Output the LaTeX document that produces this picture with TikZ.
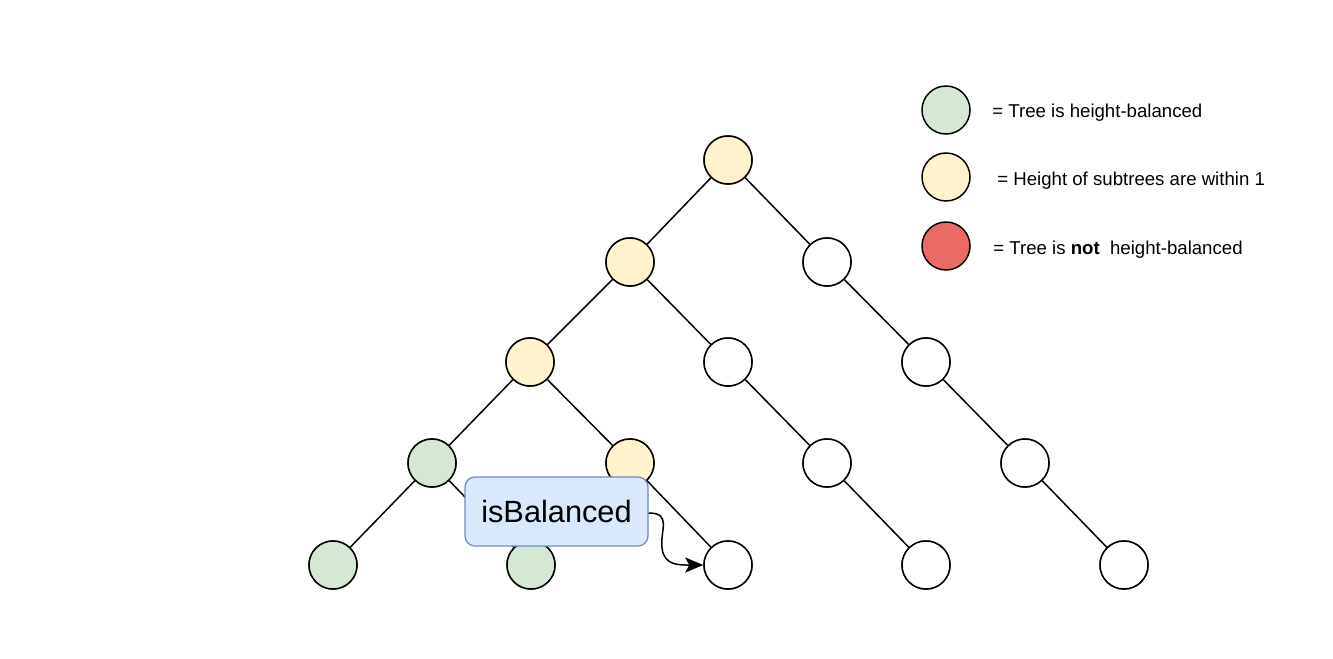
\documentclass[tikz,border=0pt]{standalone}
\usepackage{fontspec}
\setmainfont{Liberation Sans}
\usetikzlibrary{arrows.meta}
\definecolor{gfill}{HTML}{D5E8D4}
\definecolor{yfill}{HTML}{FFF2CC}
\definecolor{rfill}{HTML}{EA6B66}
\definecolor{bfill}{HTML}{DAE8FC}
\definecolor{bline}{HTML}{6C8EBF}
\tikzset{
  tn/.style={circle,draw=black,line width=0.85pt,minimum size=48*0.02cm,inner sep=0pt,fill=white},
  gn/.style={tn,fill=gfill},
  yn/.style={tn,fill=yfill},
  rn/.style={tn,fill=rfill},
  edge/.style={line width=0.85pt,black},
  legtext/.style={anchor=west,font=\fontsize{10.6}{12}\selectfont,inner sep=0pt},
}
\begin{document}
\begin{tikzpicture}[x=0.02cm,y=-0.02cm]
\useasboundingbox (0,0) rectangle (1333,659);
% tree nodes
\node[yn] (r) at (728,160) {};
\node[yn] (a) at (630,262) {};
\node[tn] (b) at (827,262) {};
\node[yn] (c) at (530,362) {};
\node[tn] (d) at (728,362) {};
\node[tn] (e) at (926,362) {};
\node[gn] (f) at (432,463) {};
\node[yn] (g) at (630,463) {};
\node[tn] (h) at (827,463) {};
\node[tn] (i) at (1025,463) {};
\node[gn] (j) at (333,565) {};
\node[gn] (k) at (531,565) {};
\node[tn] (l) at (728,565) {};
\node[tn] (m) at (926,565) {};
\node[tn] (n) at (1124,565) {};
\draw[edge] (r) -- (a); \draw[edge] (r) -- (b);
\draw[edge] (a) -- (c); \draw[edge] (a) -- (d);
\draw[edge] (b) -- (e);
\draw[edge] (c) -- (f); \draw[edge] (c) -- (g);
\draw[edge] (d) -- (h);
\draw[edge] (e) -- (i);
\draw[edge] (f) -- (j); \draw[edge] (f) -- (k);
\draw[edge] (g) -- (l);
\draw[edge] (h) -- (m);
\draw[edge] (i) -- (n);
% redraw nodes on top of edges
\foreach \nm/\st/\x/\y in {r/yn/728/160,a/yn/630/262,b/tn/827/262,c/yn/530/362,d/tn/728/362,e/tn/926/362,f/gn/432/463,g/yn/630/463,h/tn/827/463,i/tn/1025/463,j/gn/333/565,k/gn/531/565,l/tn/728/565,m/tn/926/565,n/tn/1124/565}
  {\node[\st] at (\x,\y) {};}
% isBalanced box
\node[draw=bline,fill=bfill,rounded corners=0.2cm,line width=0.7pt,minimum width=183*0.02cm,minimum height=69*0.02cm,inner sep=0pt,font=\fontsize{17.5}{20}\selectfont] (box) at (556.5,511.5) {isBalanced};
\draw[line width=0.85pt,-{Stealth[length=0.36cm,width=0.3cm,inset=0.08cm]}] (box.east) ++(0,1.5) coordinate (s)
  (s) .. controls (672,513) and (660,530) .. (662,548) .. controls (664,566) and (680,565) .. (l.west);
% legend
\node[gn] (lg) at (946,110) {};
\node[yn] (ly) at (946,177) {};
\node[rn] (lr) at (946,246) {};
\node[legtext] (tg) at (992,113) {= Tree is height-balanced};
\node[legtext] (ty) at (997,181) {= Height of subtrees are within 1};
\node[legtext] (tr) at (993,250) {= Tree is \textbf{not}\ \ height-balanced};
\end{tikzpicture}
\end{document}
